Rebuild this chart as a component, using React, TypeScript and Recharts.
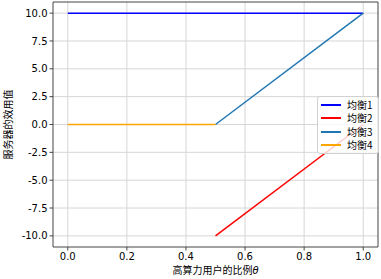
import React from 'react';
import {
  LineChart,
  Line,
  XAxis,
  YAxis,
  CartesianGrid,
  ReferenceLine,
} from 'recharts';

// equilibrium curves: utility of server vs share of high-compute users
const eq1 = [
  { x: 0, y: 10 },
  { x: 1, y: 10 },
];
const eq2 = [
  { x: 0.5, y: -10 },
  { x: 1, y: 0 },
];
const eq3 = [
  { x: 0.5, y: 0 },
  { x: 1, y: 10 },
];
const eq4 = [
  { x: 0, y: 0 },
  { x: 0.5, y: 0 },
];

const xTicks = [0, 0.2, 0.4, 0.6, 0.8, 1.0];
const yTicks = [-10, -7.5, -5, -2.5, 0, 2.5, 5, 7.5, 10];

const SERIES = [
  { name: '均衡1', data: eq1, color: '#0000ff' },
  { name: '均衡2', data: eq2, color: '#ff0000' },
  { name: '均衡3', data: eq3, color: '#1f77b4' },
  { name: '均衡4', data: eq4, color: '#ffa500' },
];

const TICK_FONT = 'DejaVu Sans, sans-serif';
const CJK_FONT = '"Noto Sans CJK SC", "DejaVu Sans", sans-serif';

const LegendBox = () => (
  <div
    style={{
      position: 'absolute',
      left: 317,
      top: 96,
      background: 'rgba(255,255,255,0.8)',
      border: '1px solid #d0d0d0',
      borderRadius: 3,
      padding: '1px 5px 1px 3px',
      fontFamily: CJK_FONT,
      fontSize: 10,
      color: '#000',
    }}
  >
    {SERIES.map((s) => (
      <div
        key={s.name}
        style={{
          display: 'flex',
          alignItems: 'center',
          height: 13.5,
          lineHeight: '12px',
          overflow: 'hidden',
        }}
      >
        <span
          style={{
            display: 'inline-block',
            width: 20,
            height: 2,
            background: s.color,
            marginRight: 6,
          }}
        />
        <span style={{ lineHeight: '12px' }}>{s.name}</span>
      </div>
    ))}
  </div>
);

const YLabel = ({ viewBox }: any) => {
  const cy = viewBox.y + viewBox.height / 2;
  return (
    <text
      x={7}
      y={cy}
      transform={`rotate(-90, 7, ${cy})`}
      textAnchor='middle'
      dominantBaseline='central'
      fontFamily={CJK_FONT}
      fontSize={10}
      fill='#000'
    >
      服务器的效用值
    </text>
  );
};

const XLabel = ({ viewBox }: any) => {
  const cx = viewBox.x + viewBox.width / 2;
  return (
    <text
      x={cx}
      y={274}
      textAnchor='middle'
      fontFamily={CJK_FONT}
      fontSize={10}
      fill='#000'
    >
      高算力用户的比例
      <tspan fontFamily={TICK_FONT} fontStyle='italic'>
        θ
      </tspan>
    </text>
  );
};

const App = () => {
  return (
    <div style={{ position: 'absolute', left: 0, top: 0, background: '#fff' }}>
      <LineChart
        width={381}
        height={279}
        margin={{ top: 2, right: 3, bottom: 0, left: 8 }}
      >
        <CartesianGrid
          stroke='#d6d6d6'
          strokeWidth={1}
          horizontalValues={yTicks}
          verticalValues={xTicks}
        />
        <XAxis
          type='number'
          dataKey='x'
          domain={[-0.05, 1.05]}
          ticks={xTicks}
          tickFormatter={(v) => Number(v).toFixed(1)}
          allowDuplicatedCategory={false}
          height={32}
          stroke='#444'
          tickSize={3.5}
          tick={{ fontFamily: TICK_FONT, fontSize: 10, fill: '#000' }}
          label={<XLabel />}
        />
        <YAxis
          type='number'
          dataKey='y'
          domain={[-11, 11]}
          ticks={yTicks}
          tickFormatter={(v) => Number(v).toFixed(1)}
          width={45}
          stroke='#444'
          tickSize={3.5}
          tick={{ fontFamily: TICK_FONT, fontSize: 10, fill: '#000' }}
          label={<YLabel />}
        />
        <ReferenceLine x={1.05} stroke='#444' />
        <ReferenceLine y={11} stroke='#444' />
        {SERIES.map((s) => (
          <Line
            key={s.name}
            data={s.data}
            dataKey='y'
            name={s.name}
            stroke={s.color}
            strokeWidth={1.5}
            dot={false}
            activeDot={false}
            isAnimationActive={false}
          />
        ))}
      </LineChart>
      <LegendBox />
    </div>
  );
};

export default App;
